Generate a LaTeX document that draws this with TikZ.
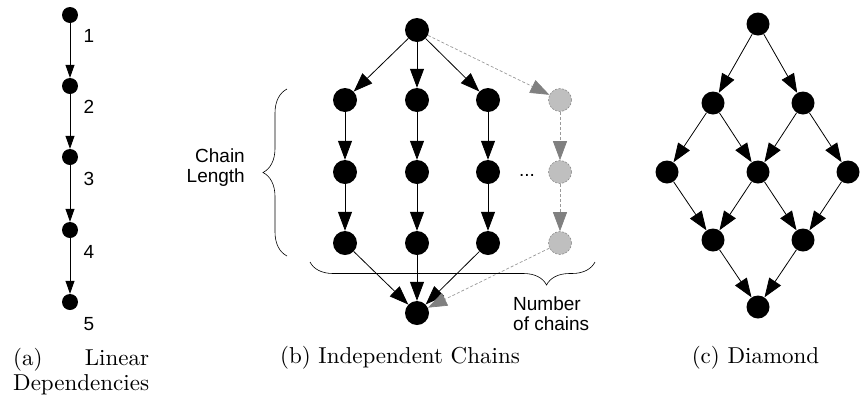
\documentclass[tikz,border=0pt]{standalone}
\usepackage{fontspec}
\setmainfont{lmroman10-regular.otf}
\newfontfamily\labelfont{Liberation Sans}
\usetikzlibrary{arrows.meta,decorations.pathreplacing}

\begin{document}
\begin{tikzpicture}[x=1pt,y=-1pt,
  dot/.style={circle,fill=black,inner sep=0pt,minimum size=24pt},
  smalldot/.style={circle,fill=black,inner sep=0pt,minimum size=16pt},
  ghost/.style={circle,fill=black!25,draw=black!45,dash pattern=on 2pt off 1.5pt,
    line width=0.6pt,inner sep=0pt,minimum size=23pt},
  edge/.style={draw=black,line width=0.8pt,-{Triangle[length=19pt,width=14pt]}},
  thinedge/.style={draw=black,line width=0.8pt,-{Triangle[length=13pt,width=9pt]}},
  ghostedge/.style={draw=black!40,line width=0.7pt,dash pattern=on 3pt off 2pt,
    -{Triangle[length=19pt,width=14pt,color=black!50]}},
  lbl/.style={font=\labelfont\fontsize{19}{21}\selectfont,inner sep=0pt},
  caption/.style={font=\fontsize{23}{26}\selectfont,inner sep=0pt},
  bracestyle/.style={draw=black,line width=0.6pt,decorate}
]
\useasboundingbox (0,0) rectangle (860,408);

% ---------- (a) linear chain ----------
\node[smalldot] (a1) at (70,15) {};
\node[smalldot] (a2) at (70,86) {};
\node[smalldot] (a3) at (70,157) {};
\node[smalldot] (a4) at (70,230) {};
\node[smalldot] (a5) at (70,302) {};
\draw[thinedge] (a1) -- (a2);
\draw[thinedge] (a2) -- (a3);
\draw[thinedge] (a3) -- (a4);
\draw[thinedge] (a4) -- (a5);
\node[lbl,anchor=base] (n1) at (89,42) {1};
\node[lbl,anchor=base] (n2) at (89,113) {2};
\node[lbl,anchor=base] (n3) at (89,185) {3};
\node[lbl,anchor=base] (n4) at (89,258) {4};
\node[lbl,anchor=base] (n5) at (89,330) {5};
\node[caption,anchor=base west] (capa1) at (13,365)
  {\setbox0=\hbox{Dependencies}\hbox to \wd0{(a)\hfill Linear}};
\node[caption,anchor=base west] (capa2) at (13,390) {Dependencies};

% ---------- (b) independent chains ----------
\node[dot] (b0) at (417,30) {};
\foreach \c/\x in {1/345,2/417,3/488} {
  \node[dot] (b1\c) at (\x,100) {};
  \node[dot] (b2\c) at (\x,172) {};
  \node[dot] (b3\c) at (\x,243) {};
}
\node[ghost] (b14) at (560,100) {};
\node[ghost] (b24) at (560,172) {};
\node[ghost] (b34) at (560,243) {};
\node[dot] (bz) at (417,313) {};

\foreach \c in {1,2,3} {
  \draw[edge] (b0) -- (b1\c);
  \draw[edge] (b1\c) -- (b2\c);
  \draw[edge] (b2\c) -- (b3\c);
  \draw[edge] (b3\c) -- (bz);
}
\draw[ghostedge] (b0) -- (b14);
\draw[ghostedge] (b14) -- (b24);
\draw[ghostedge] (b24) -- (b34);
\draw[ghostedge] (b34) -- (bz);

\node[lbl,anchor=base] (dots) at (527,176) {...};

% chain-length brace
\coordinate (lbA) at (287,256);
\coordinate (lbB) at (287,89);
\draw[bracestyle,decoration={brace,amplitude=24pt}] (lbA) -- (lbB);
\node[lbl,anchor=base east] (cl1) at (245,162) {Chain};
\node[lbl,anchor=base east] (cl2) at (245,182) {Length};

% number-of-chains brace
\coordinate (hbA) at (595,262);
\coordinate (hbB) at (310,262);
\draw[bracestyle,decoration={brace,amplitude=23pt,aspect=0.17}] (hbA) -- (hbB);
\node[lbl,anchor=base west] (nc1) at (513,310) {Number};
\node[lbl,anchor=base west] (nc2) at (513,330) {of chains};

\node[caption,anchor=base] (capb) at (400,363) {(b) Independent Chains};

% ---------- (c) diamond ----------
\node[dot,minimum size=23pt] (c0) at (758,24) {};
\node[dot,minimum size=23pt] (c11) at (713,103) {};
\node[dot,minimum size=23pt] (c12) at (803,103) {};
\node[dot,minimum size=23pt] (c21) at (667,172) {};
\node[dot,minimum size=23pt] (c22) at (758,172) {};
\node[dot,minimum size=23pt] (c23) at (848,172) {};
\node[dot,minimum size=23pt] (c31) at (713,240) {};
\node[dot,minimum size=23pt] (c32) at (803,240) {};
\node[dot,minimum size=23pt] (cz) at (758,307) {};
\draw[edge] (c0) -- (c11);
\draw[edge] (c0) -- (c12);
\draw[edge] (c11) -- (c21);
\draw[edge] (c11) -- (c22);
\draw[edge] (c12) -- (c22);
\draw[edge] (c12) -- (c23);
\draw[edge] (c21) -- (c31);
\draw[edge] (c22) -- (c31);
\draw[edge] (c22) -- (c32);
\draw[edge] (c23) -- (c32);
\draw[edge] (c31) -- (cz);
\draw[edge] (c32) -- (cz);

\node[caption,anchor=base] (capc) at (755.5,363) {(c) Diamond};
\end{tikzpicture}
\end{document}
